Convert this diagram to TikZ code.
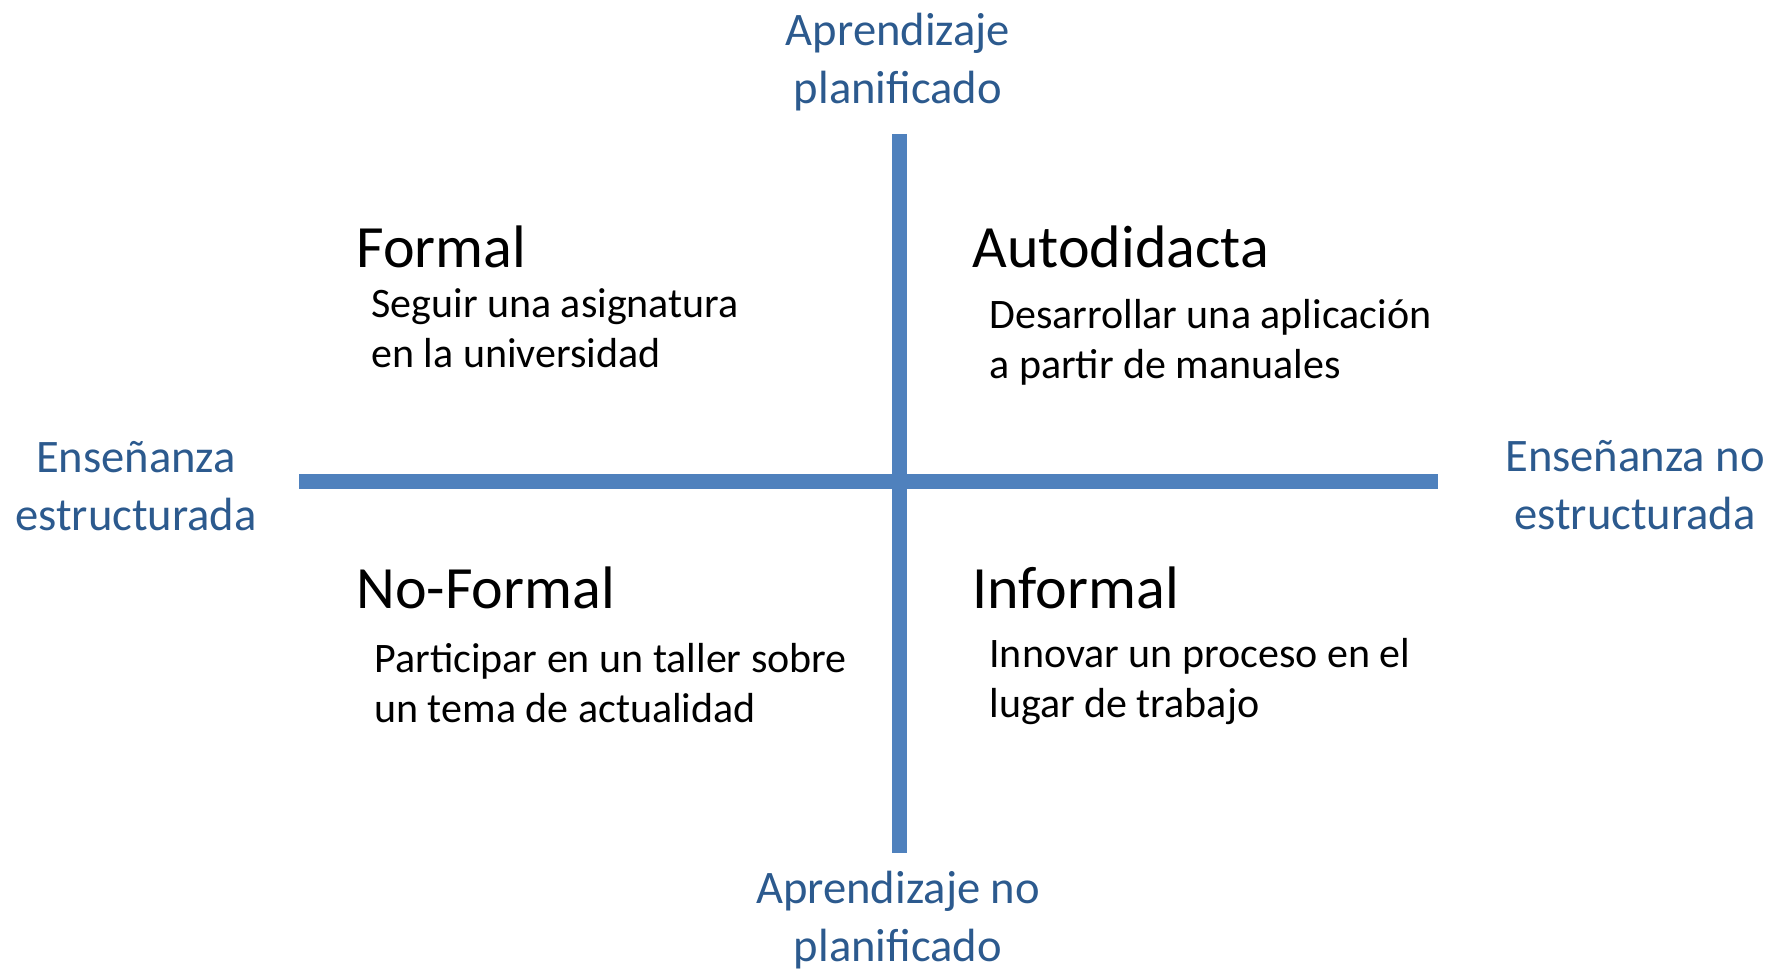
\documentclass[tikz,border=0pt]{standalone}
\usepackage{fontspec}
\setmainfont{Carlito}
\definecolor{ejeazul}{HTML}{4F81BD}
\definecolor{textoazul}{HTML}{2C5A8E}
\tikzset{
  eje/.style={line width=7.5pt, ejeazul},
  polo/.style={textoazul, align=center, font=\fontsize{23.3pt}{29pt}\selectfont},
  tipo/.style={anchor=west, inner sep=0pt, font=\fontsize{30pt}{36pt}\selectfont},
  ejemplo/.style={anchor=west, inner sep=0pt, align=left, font=\fontsize{21pt}{25pt}\selectfont}
}
\begin{document}
\begin{tikzpicture}[x=0.5pt, y=-0.5pt]
    \useasboundingbox (0,0) rectangle (1787,973);

    % Ejes
    \coordinate (arriba) at (899,134);
    \coordinate (abajo) at (899,853);
    \coordinate (izq) at (299,481);
    \coordinate (der) at (1438,481);
    \draw[eje] (izq) -- (der);
    \draw[eje] (arriba) -- (abajo);

    % Extremos de los ejes
    \node[polo] (planif) at (898,62) {Aprendizaje\\planificado};
    \node[polo] (noplanif) at (898,920) {Aprendizaje no\\planificado};
    \node[polo] (estruct) at (136,486) {Enseñanza\\estructurada};
    \node[polo] (noestruct) at (1635,485) {Enseñanza no\\estructurada};

    % Cuadrante superior izquierdo
    \node[tipo] (formal) at (356,247) {Formal};
    \node[ejemplo] (formalej) at (371,328) {Seguir una asignatura\\en la universidad};

    % Cuadrante superior derecho
    \node[tipo] (autodid) at (972,247) {Autodidacta};
    \node[ejemplo] (autodidej) at (989,342) {Desarrollar una aplicación\\a partir de manuales};

    % Cuadrante inferior izquierdo
    \node[tipo] (noformal) at (356,588) {No-Formal};
    \node[ejemplo] (noformalej) at (374,683) {Participar en un taller sobre\\un tema de actualidad};

    % Cuadrante inferior derecho
    \node[tipo] (informal) at (972,588) {Informal};
    \node[ejemplo] (informalej) at (989,682) {Innovar un proceso en el\\lugar de trabajo};

\end{tikzpicture}
\end{document}
